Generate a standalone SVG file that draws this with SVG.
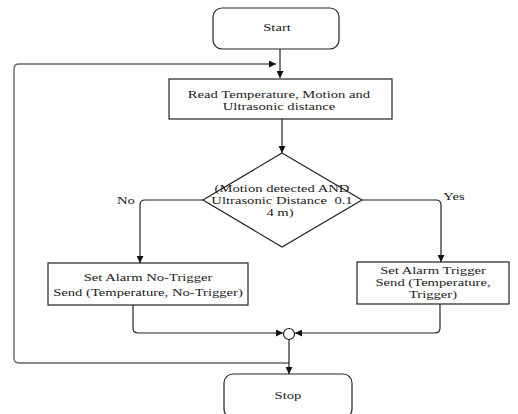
<svg xmlns="http://www.w3.org/2000/svg" width="518" height="414" viewBox="0 0 518 414">
<defs>
<marker id="ah" viewBox="0 0 10 10" refX="10" refY="5" markerWidth="7" markerHeight="7" orient="auto" markerUnits="userSpaceOnUse"><path d="M0,0 L10,5 L0,10 z" fill="#111"/></marker>
</defs>
<style>
.box{fill:#fff;stroke:#222;stroke-width:1.2}
.t{font-family:"Liberation Serif","Times New Roman",serif;font-size:11px;fill:#222;text-anchor:middle}
.c{fill:none;stroke:#222;stroke-width:1.2}
.loop{fill:none;stroke:#666;stroke-width:1.4}
</style>
<rect width="518" height="414" fill="#fff"/>
<g id="connectors">
<path class="loop" d="M289,363 H19 Q14,363 14,358 V69 Q14,64 19,64 H276" marker-end="url(#ah)"/>
<path class="c" d="M280,49 V78" marker-end="url(#ah)"/>
<path class="c" d="M282,119 V153" marker-end="url(#ah)"/>
<path class="c" d="M203,200 H145 Q140,200 140,205 V263" marker-end="url(#ah)"/>
<path class="c" d="M362,200 H436 Q441,200 441,205 V262" marker-end="url(#ah)"/>
<path class="c" d="M133,305 V328 Q133,333 138,333 H283" marker-end="url(#ah)"/>
<path class="c" d="M440,304 V328 Q440,333 435,333 H295" marker-end="url(#ah)"/>
<path class="c" d="M289,339 V374" marker-end="url(#ah)"/>
<circle class="c" cx="289" cy="334" r="5.5"/>
<text class="t" transform="translate(126,204) scale(1.33,1)">No</text>
<text class="t" transform="translate(454,200) scale(1.33,1)">Yes</text>
</g>
<g id="start">
<rect class="box" x="213" y="8" width="126" height="41" rx="9"/>
<text class="t" transform="translate(277,31) scale(1.33,1)">Start</text>
</g>
<g id="read">
<rect class="box" x="169" y="79" width="223" height="40"/>
<text class="t" transform="translate(279,98) scale(1.33,1)">Read Temperature, Motion and</text>
<text class="t" transform="translate(279,110) scale(1.33,1)">Ultrasonic distance</text>
</g>
<g id="decision">
<path class="box" d="M282,153 L362,200 L282,247 L203,200 Z"/>
<text class="t" transform="translate(282,192) scale(1.33,1)">(Motion detected AND</text>
<text class="t" transform="translate(282,204) scale(1.33,1)">Ultrasonic Distance&#160; 0.1</text>
<text class="t" transform="translate(280,216) scale(1.33,1)">4 m)</text>
</g>
<g id="notrigger">
<rect class="box" x="48" y="263" width="200" height="42"/>
<text class="t" transform="translate(148,281) scale(1.33,1)">Set Alarm No-Trigger</text>
<text class="t" transform="translate(148,296) scale(1.33,1)">Send (Temperature, No-Trigger)</text>
</g>
<g id="trigger">
<rect class="box" x="357" y="262" width="152" height="42"/>
<text class="t" transform="translate(433,274) scale(1.33,1)">Set Alarm Trigger</text>
<text class="t" transform="translate(433,286) scale(1.33,1)">Send (Temperature,</text>
<text class="t" transform="translate(433,298) scale(1.33,1)">Trigger)</text>
</g>
<g id="stop">
<rect class="box" x="224" y="374" width="128" height="44" rx="9"/>
<text class="t" transform="translate(288,399) scale(1.33,1)">Stop</text>
</g>
</svg>
